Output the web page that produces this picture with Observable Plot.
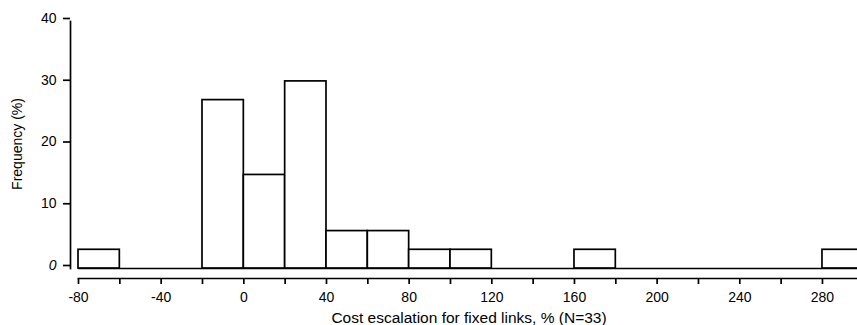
<!DOCTYPE html>
<html>
<head>
<meta charset="utf-8">
<script src="https://cdn.jsdelivr.net/npm/d3@7"></script>
<script src="https://cdn.jsdelivr.net/npm/@observablehq/plot@0.6"></script>
<style>
  html, body { margin: 0; padding: 0; background: #fff; }
  svg { display: block; }
</style>
</head>
<body>
<div id="chart"></div>
<script>
// Histogram bins (only non-empty bins are drawn as bars)
const binStart = [-80, -20, 0, 20, 40, 60, 80, 100, 160, 280];
const binEnd   = [-60, 0, 20, 40, 60, 80, 100, 120, 180, 300];
const frequency = [3.03, 27.27, 15.15, 30.30, 6.06, 6.06, 3.03, 3.03, 3.03, 3.03];

const xTicks = [-80, -60, -40, -20, 0, 20, 40, 60, 80, 100, 120, 140, 160, 180, 200, 220, 240, 260, 280, 300];
const xTickLabels = [-80, -40, 0, 40, 80, 120, 160, 200, 240, 280];
const yTickLabels = [10, 20, 30, 40];
const yZeroLabel = [0];
const xTitle = "Cost escalation for fixed links, % (N=33)";
const yTitle = "Frequency (%)";

const bins = binStart.map((s, i) => ({x1: s, x2: binEnd[i], y: frequency[i]}));

const font = "'Liberation Sans', Arial, Helvetica, sans-serif";

const chart = Plot.plot({
  width: 857,
  height: 325,
  marginLeft: 70,
  marginRight: 0,
  marginTop: 21,
  marginBottom: 47,
  style: {fontFamily: font, fontSize: "14px", color: "#000", background: "#fff"},
  x: {domain: [-80, 300], range: [78, 863.3]},
  y: {domain: [0, 40], range: [268, 21]},
  marks: [
    Plot.frame({anchor: "left", insetBottom: 10, stroke: "#000", strokeWidth: 1.7}),
    Plot.frame({anchor: "bottom", insetLeft: 8, stroke: "#000", strokeWidth: 1.7}),
    Plot.ruleY([0], {x1: -80, x2: 300, stroke: "#000", strokeWidth: 1.7}),
    Plot.rectY(bins, {x1: "x1", x2: "x2", y: "y", fill: "#fff", stroke: "#000", strokeWidth: 1.7}),
    Plot.axisX(xTicks, {tickSize: 6, tickPadding: 8, tickFormat: d => xTickLabels.includes(d) ? String(d) : "", stroke: "#000", strokeWidth: 1.7, fill: "#000", label: null, fontSize: 14}),
    Plot.axisY(yTickLabels, {tickSize: 7, tickPadding: 7, stroke: "#000", strokeWidth: 1.7, fill: "#000", label: null, dy: -3, fontSize: 14}),
    Plot.axisY(yZeroLabel, {tickSize: 7, tickPadding: 7, stroke: "#000", strokeWidth: 1.7, fill: "#000", label: null, dy: -3, fontSize: 14, fontStyle: "italic"}),
    Plot.text([yTitle], {frameAnchor: "left", rotate: -90, dx: -53, dy: -6, fontSize: 14, fill: "#000", lineAnchor: "middle", textAnchor: "middle"}),
    Plot.text([xTitle], {frameAnchor: "bottom", dx: 5, dy: 40, fontSize: 15.5, fill: "#000", lineAnchor: "middle", textAnchor: "middle"})
  ]
});

document.getElementById("chart").appendChild(chart);
</script>
</body>
</html>
